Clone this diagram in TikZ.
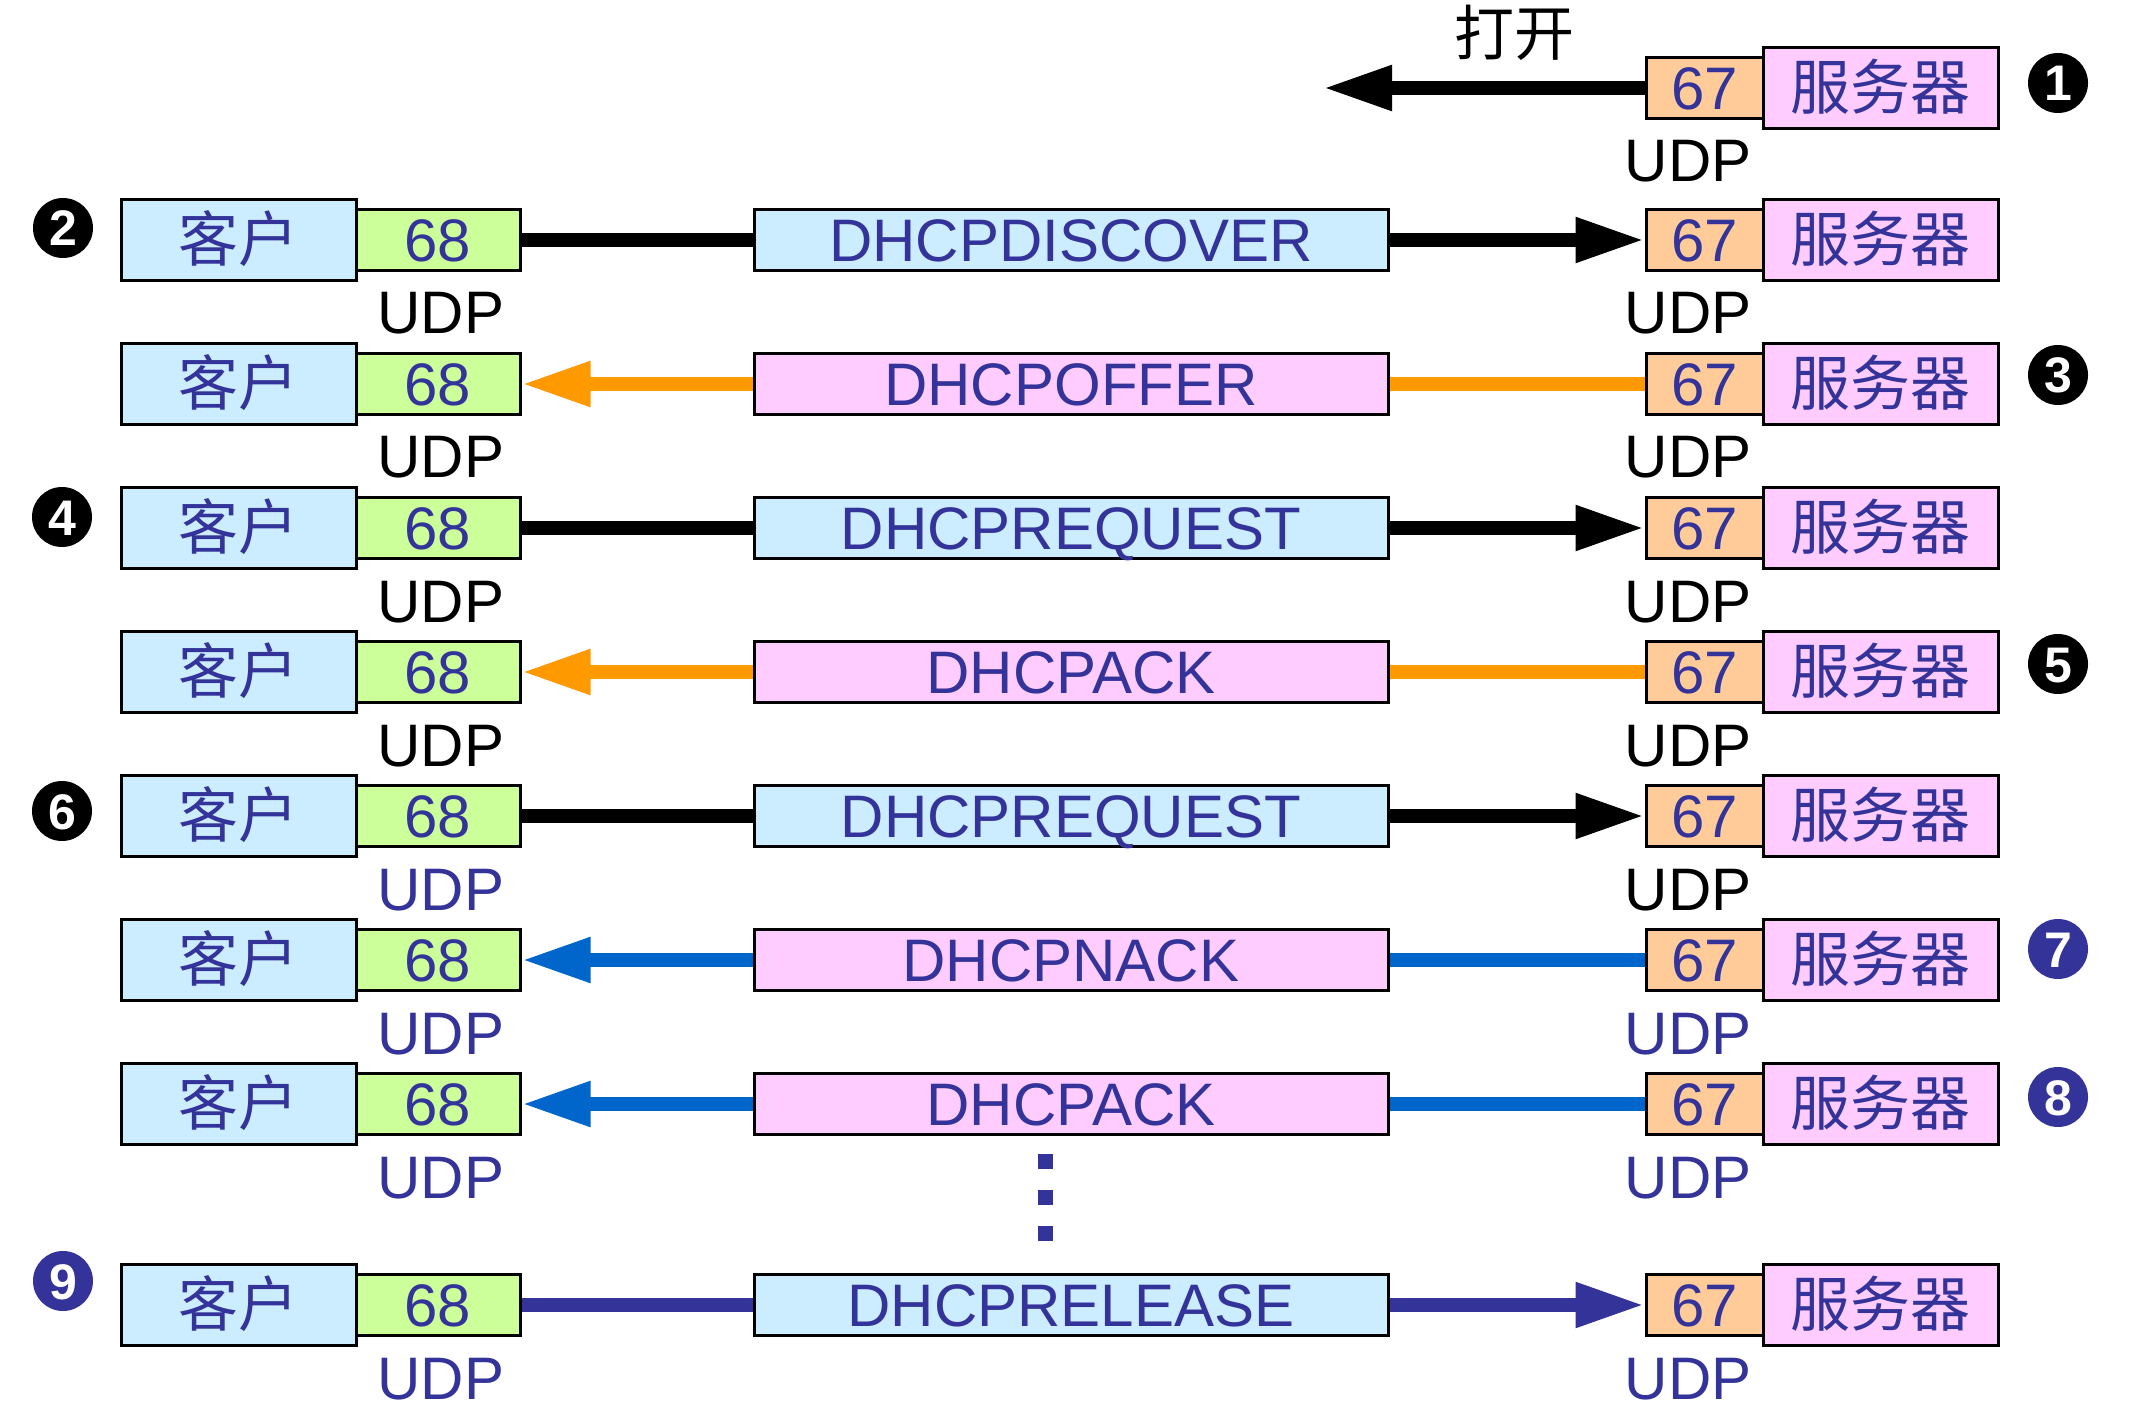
\documentclass[tikz,border=0pt]{standalone}
\usepackage{fontspec}
\setmainfont{Liberation Sans}
\newfontfamily\cjk{Noto Sans CJK SC}
\usetikzlibrary{arrows.meta}
\definecolor{dblue}{HTML}{333399}
\definecolor{cblue}{HTML}{CCECFF}
\definecolor{cgreen}{HTML}{CCFF99}
\definecolor{corange}{HTML}{FFCC99}
\definecolor{cpink}{HTML}{FFCCFF}
\definecolor{aorange}{HTML}{FF9900}
\definecolor{ablue}{HTML}{0066CC}
\newcommand\bigf{\fontsize{30pt}{36pt}\selectfont}
\newcommand\numf{\fontsize{25pt}{30pt}\selectfont\bfseries}
\tikzset{
  box/.style={draw, line width=1.5pt, inner sep=0pt, text=dblue, font=\bigf,
    text height=21.5pt, text depth=0pt},
  client/.style={box, fill=cblue, minimum width=117.5pt, minimum height=40.5pt},
  porta/.style={box, fill=cgreen, minimum width=82pt, minimum height=30.5pt},
  msgbox/.style={box, minimum width=317pt, minimum height=30.5pt},
  portb/.style={box, fill=corange, minimum width=58.5pt, minimum height=30.5pt},
  server/.style={box, fill=cpink, minimum width=117.5pt, minimum height=40.5pt},
  udp/.style={font=\bigf, anchor=base, inner sep=0pt},
  shaft/.style={line width=7pt},
  arr/.style={line width=7pt, -{Triangle[length=34.5pt,width=21pt]}},
  num/.style={circle, inner sep=0pt, minimum size=30pt, text=white, font=\numf,
    text height=18pt, text depth=0pt},
}
% #1 id, #2 y, #3 message, #4 fill, #5 arrow colour, #6 R/L, #7 left UDP colour, #8 right UDP colour
\newcommand\msgrow[8]{%
  \node[client] (c#1) at (238.5,#2) {{\cjk 客户}};
  \node[porta] (a#1) at (438,#2) {68};
  \node[msgbox, fill=#4] (m#1) at (1071,#2) {#3};
  \node[portb] (b#1) at (1704.5,#2) {67};
  \node[server] (s#1) at (1880.5,#2) {{\cjk 服务器}};
  \node[udp, text=#7] (ul#1) at (441,#2+94) {UDP};
  \node[udp, text=#8] (ur#1) at (1688,#2+94) {UDP};
  \if R#6
    \draw[shaft, #5] (a#1) -- (m#1);
    \draw[arr, #5] (m#1) -- (b#1);
  \else
    \draw[shaft, #5] (b#1) -- (m#1);
    \draw[arr, #5] (m#1) -- (a#1);
  \fi
}
\begin{document}
\begin{tikzpicture}[x=0.5pt, y=-0.5pt]
\useasboundingbox (0,0) rectangle (2156,1411);
\fill[white] (0,0) rectangle (2156,1411);
% row 1
\node[portb] (b1) at (1704.5,88) {67};
\node[server] (s1) at (1880.5,88) {{\cjk 服务器}};
\node[udp] (ur1) at (1688,182) {UDP};
\coordinate (open1) at (1323,88);
\draw[arr, black] (b1) -- (open1);
\node[font=\bigf, inner sep=0pt, text height=21.5pt, text depth=0pt] (lab1) at (1514,34) {{\cjk 打开}};
% rows
\msgrow{2}{240}{DHCPDISCOVER}{cblue}{black}{R}{black}{black}
\msgrow{3}{384}{DHCPOFFER}{cpink}{aorange}{L}{black}{black}
\msgrow{4}{528}{DHCPREQUEST}{cblue}{black}{R}{black}{black}
\msgrow{5}{672}{DHCPACK}{cpink}{aorange}{L}{black}{black}
\msgrow{6}{816}{DHCPREQUEST}{cblue}{black}{R}{dblue}{black}
\msgrow{7}{960}{DHCPNACK}{cpink}{ablue}{L}{dblue}{dblue}
\msgrow{8}{1104}{DHCPACK}{cpink}{ablue}{L}{dblue}{dblue}
\msgrow{9}{1305}{DHCPRELEASE}{cblue}{dblue}{R}{dblue}{dblue}
% step numbers
\node[num, fill=black] (n1) at (2058,83) {1};
\node[num, fill=black] (n2) at (63,228) {2};
\node[num, fill=black] (n3) at (2058,375) {3};
\node[num, fill=black] (n4) at (62,517) {4};
\node[num, fill=black] (n5) at (2058,664) {5};
\node[num, fill=black] (n6) at (62,811) {6};
\node[num, fill=dblue] (n7) at (2058,949) {7};
\node[num, fill=dblue] (n8) at (2058,1097) {8};
\node[num, fill=dblue] (n9) at (63,1281) {9};
% vertical ellipsis
\foreach \yy in {1161,1197,1233} {
  \fill[dblue] (1037.5,\yy-7.5) rectangle (1052.5,\yy+7.5);
}
\end{tikzpicture}
\end{document}
